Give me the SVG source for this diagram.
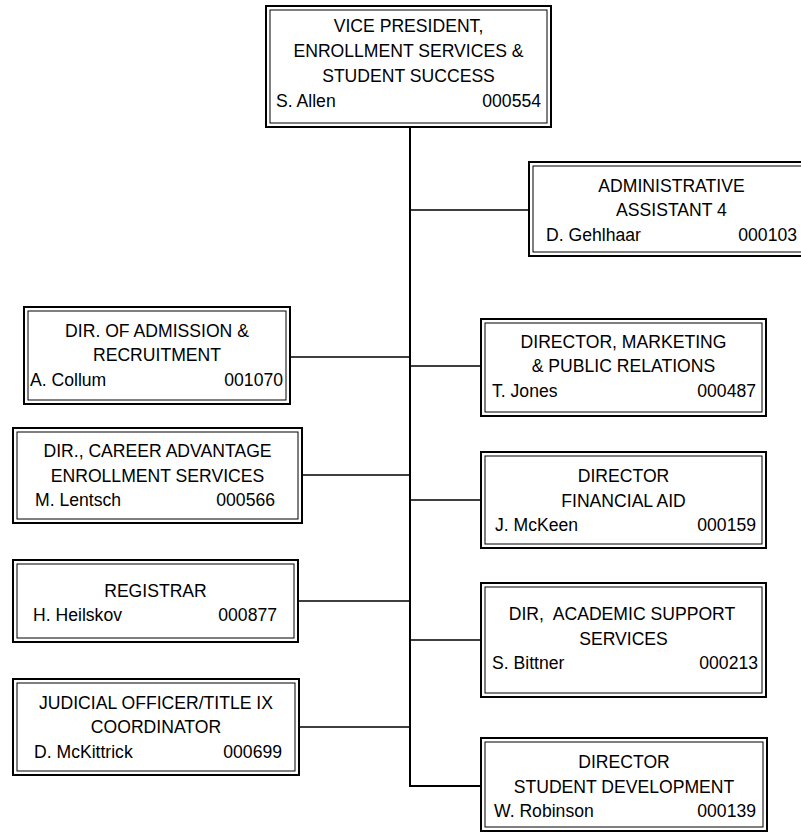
<svg xmlns="http://www.w3.org/2000/svg" width="801" height="832" viewBox="0 0 801 832">
<style>
.o{fill:#fff;stroke:#000;stroke-width:2}
.i{fill:none;stroke:#000;stroke-width:1}
text{font-family:"Liberation Sans",Arial,sans-serif;font-size:17.6px;fill:#000}
.c{text-anchor:middle}
.r{text-anchor:end}
.ln{stroke:#000;fill:none}
</style>
<rect width="801" height="832" fill="#fff"/>
<g id="connectors">
<path class="ln" stroke-width="2" d="M410 127V786H481"/>
<path class="ln" stroke-width="1.5" d="M410 210H529M290 357H410M410 366H481M302 475H410M410 500H481M298 601H410M410 640H481M299 727H410"/>
</g>
<g id="vp">
<rect class="o" x="266" y="6" width="285" height="121"/>
<rect class="i" x="270" y="10" width="277" height="113"/>
<text class="c" x="408.5" y="32">VICE PRESIDENT,</text>
<text class="c" x="408.5" y="57">ENROLLMENT SERVICES &amp;</text>
<text class="c" x="408.5" y="82">STUDENT SUCCESS</text>
<text x="276" y="107">S. Allen</text>
<text class="r" x="541" y="107">000554</text>
</g>
<g id="admin">
<rect class="o" x="529" y="162" width="285" height="94"/>
<rect class="i" x="533" y="166" width="277" height="86"/>
<text class="c" x="671.5" y="192">ADMINISTRATIVE</text>
<text class="c" x="671.5" y="216">ASSISTANT 4</text>
<text x="546" y="241">D. Gehlhaar</text>
<text class="r" x="797" y="241">000103</text>
</g>
<g id="admission">
<rect class="o" x="24" y="307" width="266" height="97"/>
<rect class="i" x="28" y="311" width="258" height="89"/>
<text class="c" x="157" y="337">DIR. OF ADMISSION &amp;</text>
<text class="c" x="157" y="361">RECRUITMENT</text>
<text x="30" y="386">A. Collum</text>
<text class="r" x="283" y="386">001070</text>
</g>
<g id="marketing">
<rect class="o" x="481" y="319" width="285" height="97"/>
<rect class="i" x="485" y="323" width="277" height="89"/>
<text class="c" x="623.5" y="348">DIRECTOR, MARKETING</text>
<text class="c" x="623.5" y="372">&amp; PUBLIC RELATIONS</text>
<text x="492" y="397">T. Jones</text>
<text class="r" x="756" y="397">000487</text>
</g>
<g id="career">
<rect class="o" x="13" y="428" width="289" height="95"/>
<rect class="i" x="17" y="432" width="281" height="87"/>
<text class="c" x="157.5" y="457">DIR., CAREER ADVANTAGE</text>
<text class="c" x="157.5" y="482">ENROLLMENT SERVICES</text>
<text x="35" y="506">M. Lentsch</text>
<text class="r" x="275" y="506">000566</text>
</g>
<g id="finaid">
<rect class="o" x="481" y="452" width="285" height="96"/>
<rect class="i" x="485" y="456" width="277" height="88"/>
<text class="c" x="623.5" y="482">DIRECTOR</text>
<text class="c" x="623.5" y="507">FINANCIAL AID</text>
<text x="495" y="531">J. McKeen</text>
<text class="r" x="756" y="531">000159</text>
</g>
<g id="registrar">
<rect class="o" x="13" y="560" width="285" height="82"/>
<rect class="i" x="17" y="564" width="277" height="74"/>
<text class="c" x="155.5" y="597">REGISTRAR</text>
<text x="33" y="621">H. Heilskov</text>
<text class="r" x="277" y="621">000877</text>
</g>
<g id="academic">
<rect class="o" x="481" y="583" width="285" height="114"/>
<rect class="i" x="485" y="587" width="277" height="106"/>
<text class="c" x="622" y="620" xml:space="preserve">DIR,  ACADEMIC SUPPORT</text>
<text class="c" x="623.5" y="645">SERVICES</text>
<text x="492" y="669">S. Bittner</text>
<text class="r" x="758" y="669">000213</text>
</g>
<g id="judicial">
<rect class="o" x="13" y="679" width="286" height="96"/>
<rect class="i" x="17" y="683" width="278" height="88"/>
<text class="c" x="156" y="709">JUDICIAL OFFICER/TITLE IX</text>
<text class="c" x="156" y="733">COORDINATOR</text>
<text x="34" y="758">D. McKittrick</text>
<text class="r" x="282" y="758">000699</text>
</g>
<g id="studentdev">
<rect class="o" x="481" y="738" width="286" height="93"/>
<rect class="i" x="485" y="742" width="278" height="85"/>
<text class="c" x="624" y="768">DIRECTOR</text>
<text class="c" x="624" y="793">STUDENT DEVELOPMENT</text>
<text x="494" y="817">W. Robinson</text>
<text class="r" x="756" y="817">000139</text>
</g>
</svg>
